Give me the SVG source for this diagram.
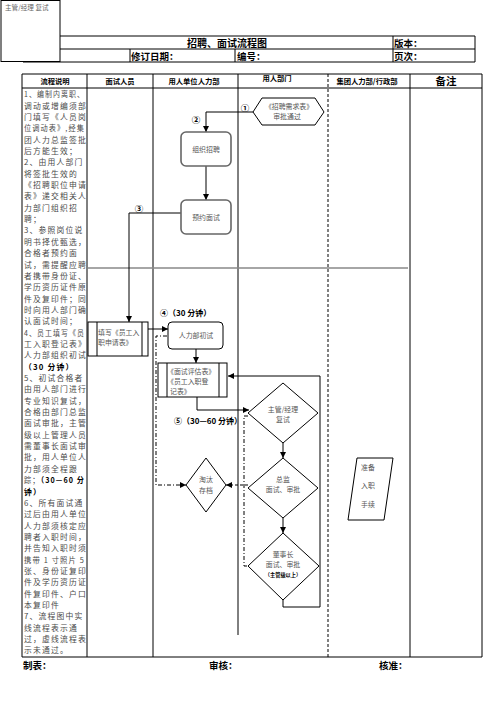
<svg xmlns="http://www.w3.org/2000/svg" width="496" height="702" viewBox="0 0 496 702">
<defs>
<style>
text{font-family:"Noto Sans CJK SC","Liberation Sans",sans-serif}
.g{fill:#4a4a4a;font-size:7.8px;letter-spacing:1.2px}
.n{fill:#555;font-size:6.9px}
.bb{fill:#000;font-weight:bold}
.ln{stroke:#000;stroke-width:1;fill:none}
.box{fill:#fff;stroke:#000;stroke-width:1}
.rbox{fill:#fff;stroke:#666;stroke-width:1.6}
.c{stroke:#000;stroke-width:1;fill:none}
.dash{stroke:#000;stroke-width:1;fill:none;stroke-dasharray:3 2}
.dd{stroke:#000;stroke-width:1;fill:none;stroke-dasharray:4 2 1 2}
</style>
<marker id="ah" viewBox="0 0 10 10" refX="10" refY="5" markerWidth="6" markerHeight="6" markerUnits="userSpaceOnUse" orient="auto">
<path d="M0,0L10,5L0,10z" fill="#000"/>
</marker>
</defs>
<rect width="496" height="702" fill="#fff"/>

<g id="header">
<rect x="1" y="0.5" width="59" height="61" class="box"/>
<text x="5" y="10" style="fill:#666;font-size:6.6px">主管/经理 复试</text>
<path class="ln" d="M60,36H475V62M60,49H475M23,62H475M393,36V62M130,49V62M235,49V62"/>
<text x="187" y="47" class="bb" style="font-size:10px">招聘、面试流程图</text>
<text x="394" y="47" class="bb" style="font-size:9.5px">版本：</text>
<text x="131" y="59.5" class="bb" style="font-size:9.5px">修订日期：</text>
<text x="237" y="59.5" class="bb" style="font-size:9.5px">编号：</text>
<text x="394" y="59.5" class="bb" style="font-size:9.5px">页次：</text>
</g>

<g id="table">
<path class="ln" d="M22,74H482V657H22ZM22,88H482M87,74V657M153,74V657M238,74V635M410,74V657"/>
<path class="ln" d="M328,74V657" stroke-dasharray="3 2"/>
<path d="M88,268H408" stroke="#888" stroke-width="1.6"/>
<g class="bb" style="font-size:7.3px" text-anchor="middle">
<text x="55" y="84">流程说明</text>
<text x="120" y="84">面试人员</text>
<text x="194" y="84">用人单位人力部</text>
<text x="277" y="81">用人部门</text>
<text x="367" y="84">集团人力部/行政部</text>
</g>
<text x="446" y="85" class="bb" text-anchor="middle" style="font-size:10.5px">备注</text>
</g>

<g id="desc" class="g">
<text x="24" y="97.2" textLength="61" lengthAdjust="spacingAndGlyphs">1、编制内离职、</text>
<text x="24" y="108.6">调动或增编须部</text>
<text x="24" y="119.9">门填写《人员岗</text>
<text x="24" y="131.3" textLength="61" lengthAdjust="spacingAndGlyphs">位调动表》,经集</text>
<text x="24" y="142.6">团人力总监签批</text>
<text x="24" y="154">后方能生效；</text>
<text x="24" y="165.3">2、由用人部门</text>
<text x="24" y="176.7">将签批生效的</text>
<text x="24" y="188">《招聘职位申请</text>
<text x="24" y="199.4">表》递交相关人</text>
<text x="24" y="210.7">力部门组织招</text>
<text x="24" y="222.1">聘；</text>
<text x="24" y="233.4">3、参照岗位说</text>
<text x="24" y="244.8">明书择优甄选，</text>
<text x="24" y="256.1">合格者预约面</text>
<text x="24" y="267.5">试，需提醒应聘</text>
<text x="24" y="278.8">者携带身份证、</text>
<text x="24" y="290.2">学历资历证件原</text>
<text x="24" y="301.5">件及复印件；同</text>
<text x="24" y="312.9">时向用人部门确</text>
<text x="24" y="324.2">认面试时间；</text>
<text x="24" y="335.6" textLength="61" lengthAdjust="spacingAndGlyphs">4、员工填写《员</text>
<text x="24" y="346.9">工入职登记表》</text>
<text x="24" y="358.3">人力部组织初试</text>
<text x="24" y="369.6" class="bb">（30 分钟）</text>
<text x="24" y="381">5、初试合格者</text>
<text x="24" y="392.3">由用人部门进行</text>
<text x="24" y="403.7">专业知识复试，</text>
<text x="24" y="415">合格由部门总监</text>
<text x="24" y="426.4">面试审批，主管</text>
<text x="24" y="437.7">级以上管理人员</text>
<text x="24" y="449.1">需董事长面试审</text>
<text x="24" y="460.4">批，用人单位人</text>
<text x="24" y="471.8">力部须全程跟</text>
<text x="24" y="483.1" textLength="61" lengthAdjust="spacingAndGlyphs">踪；<tspan class="bb">（30—60 分</tspan></text>
<text x="24" y="494.5" class="bb">钟）</text>
<text x="24" y="505.8">6、所有面试通</text>
<text x="24" y="517.2">过后由用人单位</text>
<text x="24" y="528.5">人力部须核定应</text>
<text x="24" y="539.9">聘者入职时间，</text>
<text x="24" y="551.2">并告知入职时须</text>
<text x="24" y="562.6" textLength="61" lengthAdjust="spacingAndGlyphs">携带 1 寸照片 5</text>
<text x="24" y="573.9">张、身份证复印</text>
<text x="24" y="585.3">件及学历资历证</text>
<text x="24" y="596.6">件复印件、户口</text>
<text x="24" y="608">本复印件</text>
<text x="24" y="619.3">7、流程图中实</text>
<text x="24" y="630.7">线流程表示通</text>
<text x="24" y="642">过，虚线流程表</text>
<text x="24" y="653.4">示未通过。</text>
</g>

<g id="footer" class="bb" style="font-size:9.5px">
<text x="23" y="669">制表：</text>
<text x="209" y="669">审核：</text>
<text x="379" y="669">核准：</text>
</g>

<g id="connectors">
<path class="c" d="M253,112H206V132" marker-end="url(#ah)"/>
<path class="c" d="M206,166V200" marker-end="url(#ah)"/>
<path class="c" d="M182,213H129V322" marker-end="url(#ah)"/>
<path class="c" d="M148,329H168" stroke-width="1.8" marker-end="url(#ah)"/>
<path class="c" d="M196,349V363" marker-end="url(#ah)"/>
<path class="c" d="M197,397V410H249" marker-end="url(#ah)"/>
<path class="c" d="M283,443V458" marker-end="url(#ah)"/>
<path class="c" d="M283,518V533" marker-end="url(#ah)"/>
<path class="c" d="M283,600V607H320V376H228" marker-end="url(#ah)"/>
<path class="dash" d="M248,485H226" marker-end="url(#ah)"/>
<path class="dd" d="M167,336H156V485H186" marker-end="url(#ah)"/>
<path class="dd" d="M248,416H244V566H248"/>
<g class="bb" style="font-size:8.5px" text-anchor="middle">
<text x="245" y="111">①</text>
<text x="196" y="123">②</text>
<text x="139" y="212">③</text>
</g>
<text x="160" y="316" class="bb" style="font-size:8px">④（30 分钟）</text>
<text x="174" y="424" class="bb" style="font-size:8px">⑤（30—60 分钟）</text>
</g>

<g id="n_demand">
<path class="box" d="M253,112L262,98H315L324,112L315,125H262Z"/>
<text x="289" y="109" class="n" text-anchor="middle">《招聘需求表》</text>
<text x="287" y="119" class="n" text-anchor="middle">审批通过</text>
</g>

<g id="n_organize">
<rect x="181" y="132" width="50" height="34" rx="5" class="rbox"/>
<text x="206" y="152" class="n" text-anchor="middle">组织招聘</text>
</g>

<g id="n_appoint">
<rect x="181" y="200" width="50" height="34" rx="5" class="rbox"/>
<text x="206" y="220" class="n" text-anchor="middle">预约面试</text>
</g>

<g id="n_fill">
<rect x="88" y="322" width="60" height="34" class="box"/>
<path class="ln" d="M97,322V356M142,322V356"/>
<text x="98" y="335" class="n">填写《员工入</text>
<text x="98" y="345" class="n">职申请表》</text>
</g>

<g id="n_first">
<rect x="168" y="322" width="55" height="27" rx="4" class="box"/>
<text x="196" y="338" class="n" text-anchor="middle">人力部初试</text>
</g>

<g id="n_forms">
<rect x="158" y="363" width="69" height="34" class="box"/>
<path class="ln" d="M167,363V397M219,363V397"/>
<text x="167" y="374" class="n">《面试评估表》</text>
<text x="167" y="384" class="n">《员工入职登</text>
<text x="170" y="394" class="n">记表》</text>
</g>

<g id="n_manager">
<path class="box" d="M283,383L318,413L283,443L248,413Z"/>
<text x="283" y="412" class="n" text-anchor="middle">主管/经理</text>
<text x="283" y="422" class="n" text-anchor="middle">复试</text>
</g>

<g id="n_director">
<path class="box" d="M283,458L318,488L283,518L248,488Z"/>
<text x="283" y="482" class="n" text-anchor="middle">总监</text>
<text x="283" y="492" class="n" text-anchor="middle">面试、审批</text>
</g>

<g id="n_chairman">
<path class="box" d="M283,533L319,566L283,600L248,566Z"/>
<text x="283" y="557" class="n" text-anchor="middle">董事长</text>
<text x="283" y="567" class="n" text-anchor="middle">面试、审批</text>
<text x="283" y="576.5" class="bb" text-anchor="middle" style="font-size:5.2px">（主管级以上）</text>
</g>

<g id="n_reject">
<path class="box" d="M206,458L226,485L206,512L186,485Z"/>
<text x="206" y="482" class="n" text-anchor="middle">淘汰</text>
<text x="206" y="493" class="n" text-anchor="middle">存档</text>
</g>

<g id="n_onboard">
<path class="box" d="M357,458H393L384,520H348Z"/>
<text x="368" y="470" class="n" text-anchor="middle">准备</text>
<text x="368" y="488" class="n" text-anchor="middle">入职</text>
<text x="368" y="507" class="n" text-anchor="middle">手续</text>
</g>
</svg>
